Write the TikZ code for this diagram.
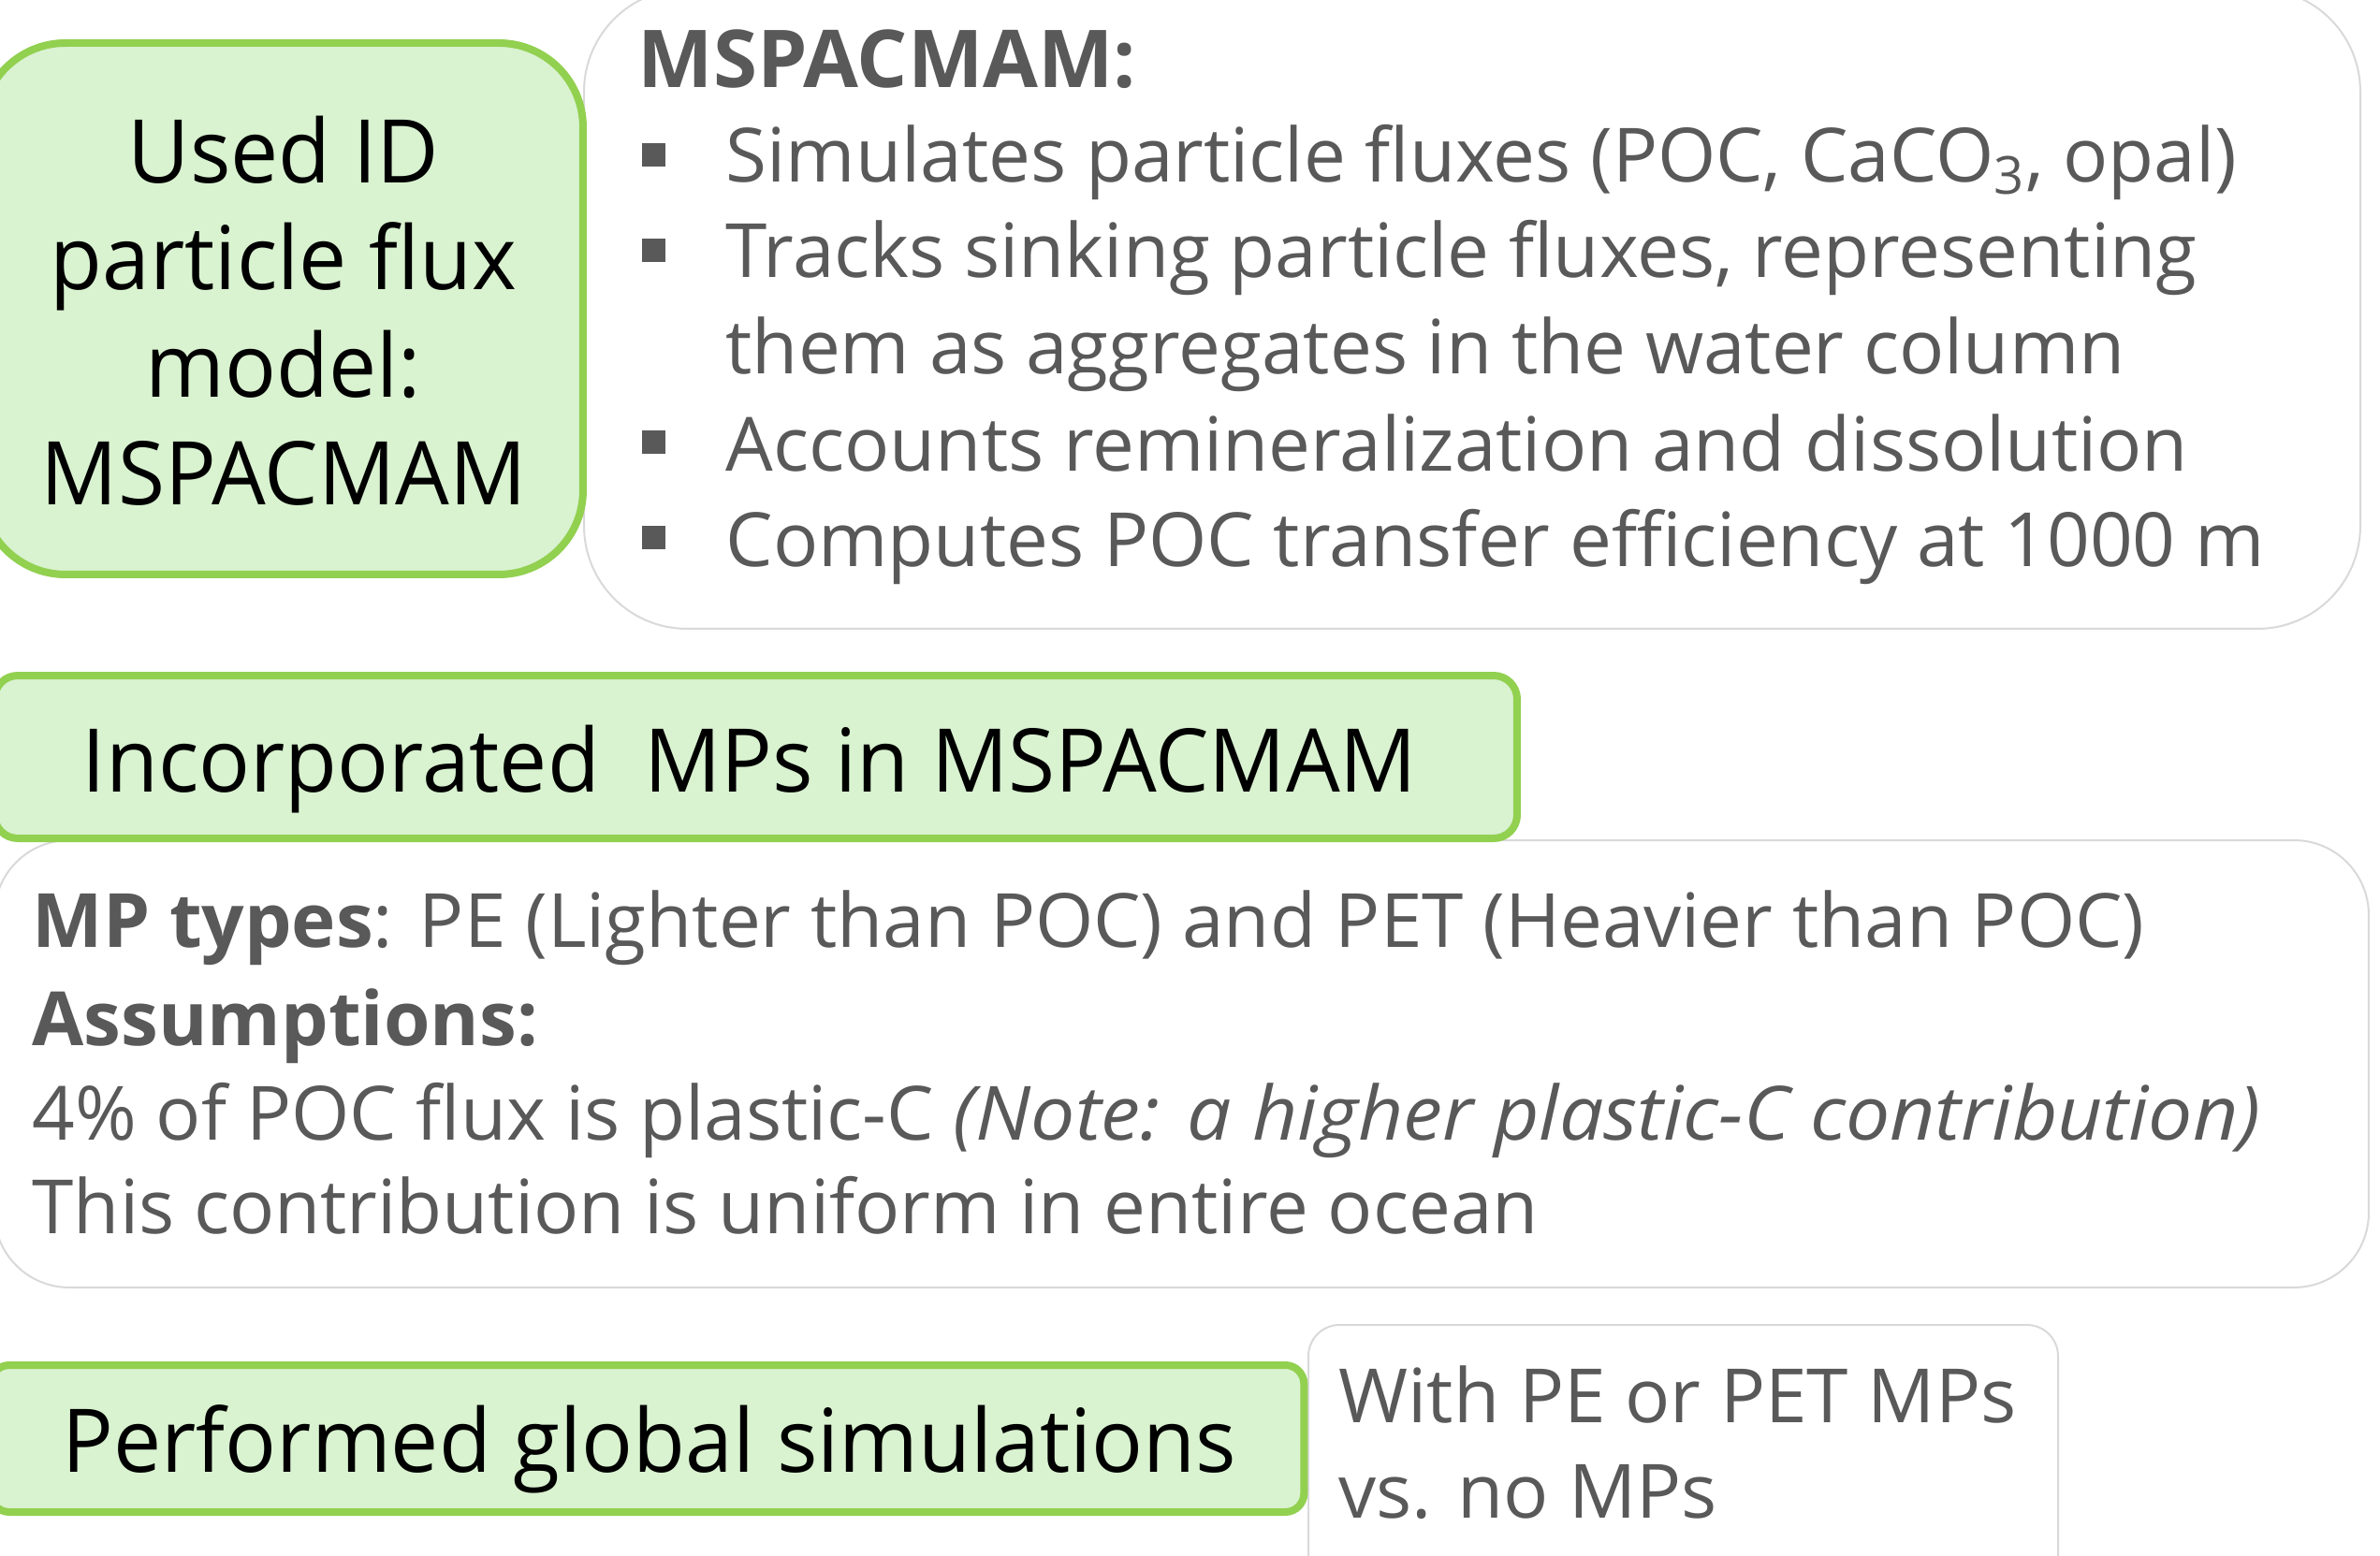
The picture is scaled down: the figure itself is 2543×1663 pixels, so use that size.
\documentclass[tikz,border=0pt]{standalone}
\usepackage{fontspec}
\setmainfont{Open Sans}[ItalicFeatures={FakeStretch=1.05}]
\newfontfamily\headfont{Open Sans}[FakeStretch=0.97]
\definecolor{leafline}{HTML}{92D050}
\definecolor{leaffill}{HTML}{D9F2D0}
\definecolor{inkgrey}{HTML}{595959}
\definecolor{frameline}{HTML}{D9D9D9}

\begin{document}
\begin{tikzpicture}[x=0.3pt,y=-0.3pt,
  boxbase/.style={inner sep=0pt, outer sep=0pt, anchor=north west},
  greenbox/.style={boxbase, draw=leafline, fill=leaffill, line width=2.4pt},
  notebox/.style={boxbase, draw=frameline, fill=white, line width=0.6pt},
  headtext/.style={inner sep=0pt, text=black, font=\headfont\fontsize{28.2}{34.4}\selectfont},
  bodytext/.style={inner sep=0pt, anchor=base west, text=inkgrey, font=\fontsize{24}{30.6}\selectfont},
  bulletsq/.style={inner sep=0pt, minimum size=7.5pt, fill=inkgrey}]

\useasboundingbox (0,0) rectangle (2543,1663);
\clip (0,0) rectangle (2543,1663);

% model description
\node[notebox, rounded corners=33pt, minimum width=569.4pt, minimum height=205.2pt] (desc) at (624,-12) {};
\node[greenbox, rounded corners=27pt, minimum width=192.9pt, minimum height=170.4pt] (model) at (-20,46) {};
\node[headtext, align=center, anchor=base] (modeltxt) at (303,539)
  {Used ID\\particle flux\\model:\\MSPACMAM};

\node[bodytext, font=\fontsize{25.6}{30.6}\selectfont\bfseries] (deschead) at (681,94) {MSPACMAM:};
\node[bulletsq] (q1) at (698,166) {};
\node[bulletsq] (q2) at (698,268) {};
\node[bulletsq] (q3) at (698,472) {};
\node[bulletsq] (q4) at (698,574) {};
\node[bodytext] (d1) at (775,195) {Simulates particle fluxes (POC, CaCO\textsubscript{3}, opal)};
\node[bodytext] (d2) at (775,297) {Tracks sinking particle fluxes, representing};
\node[bodytext] (d3) at (775,399) {them as aggregates in the water column};
\node[bodytext] (d4) at (775,503) {Accounts remineralization and dissolution};
\node[bodytext] (d5) at (775,605) {Computes POC transfer efficiency at 1000 m};

% microplastics in the model
\node[notebox, rounded corners=24pt, minimum width=761.1pt, minimum height=143.4pt] (assume) at (-6,898) {};
\node[greenbox, rounded corners=7.5pt, minimum width=488.1pt, minimum height=52.2pt] (incorp) at (-6,722) {};
\node[headtext, anchor=base west] (incorptxt) at (87,846) {Incorporated\ \ MPs in MSPACMAM};

\node[bodytext] (a1) at (34,1012) {\textbf{MP types}: PE (Lighter than POC) and PET (Heavier than POC)};
\node[bodytext] (a2) at (34,1117) {\textbf{Assumptions:}};
\node[bodytext] (a3) at (34,1218) {4\% of POC flux is plastic-C \textit{(Note: a higher plastic-C contribution)}};
\node[bodytext] (a4) at (34,1318) {This contribution is uniform in entire ocean};

% simulations
\node[notebox, rounded corners=10pt, minimum width=240.3pt, minimum height=85.2pt] (runs) at (1398,1416) {};
\node[greenbox, rounded corners=6pt, minimum width=421pt, minimum height=47.1pt] (sim) at (-10,1459) {};
\node[headtext, anchor=base west] (simtxt) at (66,1573) {Performed global simulations};
\node[bodytext] (r1) at (1430,1520) {With PE or PET MPs};
\node[bodytext] (r2) at (1430,1622) {vs. no MPs};
\end{tikzpicture}
\end{document}
